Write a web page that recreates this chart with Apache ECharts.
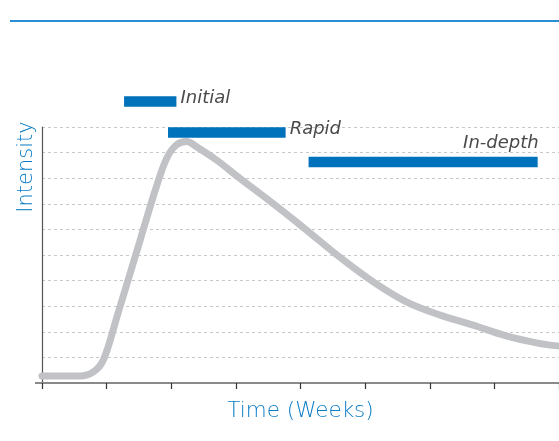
<!DOCTYPE html>
<html>
<head>
<meta charset="utf-8">
<script src="https://cdn.jsdelivr.net/npm/echarts@6/dist/echarts.min.js"></script>
<style>html,body{margin:0;padding:0;background:#fff}#c{width:559px;height:441px}</style>
</head>
<body>
<div id="c"></div>
<script>
// Curve: learning intensity over time
var timeWeeks = [0, 0.59, 0.80, 0.95, 1.16, 1.52, 1.77, 1.93, 2.08, 2.24, 2.39, 2.70, 3.06, 3.57, 4.09, 4.60, 5.12, 5.63, 6.15, 6.66, 7.18, 7.69, 7.98];
var intensity = [0.27, 0.27, 0.44, 0.90, 2.59, 5.59, 7.67, 8.78, 9.30, 9.43, 9.23, 8.71, 8.0, 7.02, 5.98, 4.93, 3.96, 3.18, 2.66, 2.27, 1.84, 1.55, 1.45];

// Phases
var phaseNames = ['Initial', 'Rapid', 'In-depth'];
var phaseStart = [1.27, 1.95, 4.125];
var phaseEnd = [2.08, 3.77, 7.67];
var phaseLevel = [11.0, 9.79, 8.63];

var curveData = timeWeeks.map(function (t, i) { return [t, intensity[i]]; });
var phaseData = phaseNames.map(function (n, i) { return [phaseStart[i], phaseEnd[i], phaseLevel[i], n]; });

var FONT = '"DejaVu Sans"';
var chart = echarts.init(document.getElementById('c'));
chart.setOption({
  animation: false,
  grid: { left: 42, right: -1, top: 127, bottom: 58 },
  xAxis: {
    type: 'value', min: 0, max: 8, interval: 1,
    name: 'Time (Weeks)', nameLocation: 'middle', nameGap: 17,
    nameTextStyle: { color: '#0a7cc6', fontSize: 21.5, fontFamily: 'DejaVu Sans', fontWeight: 200 },
    axisLine: { show: true, lineStyle: { color: '#8a8a8a', width: 2 } },
    axisTick: { show: true, length: 6, lineStyle: { color: '#333', width: 1.2 } },
    axisLabel: { show: false },
    splitLine: { show: false }
  },
  yAxis: {
    type: 'value', min: 0, max: 10, interval: 1,
    axisLine: { show: true, lineStyle: { color: '#555', width: 1.2 } },
    axisTick: { show: false },
    axisLabel: { show: false },
    splitLine: { show: true, lineStyle: { color: '#c8c8c8', type: [3, 3], width: 1 } }
  },
  graphic: [
    { type: 'line', shape: { x1: 10, y1: 21, x2: 559, y2: 21 }, style: { stroke: '#2a8ed4', lineWidth: 2 } },
    { type: 'line', shape: { x1: 35, y1: 383, x2: 43, y2: 383 }, style: { stroke: '#8a8a8a', lineWidth: 2 } },
    { type: 'text', x: 26.5, y: 167, rotation: Math.PI / 2,
      style: { text: 'Intensity', fill: '#0a7cc6', font: '200 21px ' + FONT, align: 'center', verticalAlign: 'middle' } }
  ],
  series: [
    {
      type: 'line', data: curveData, smooth: 0.35, symbol: 'none',
      lineStyle: { color: '#c1c2c6', width: 7, cap: 'round', join: 'round' },
      z: 2
    },
    {
      type: 'custom', clip: false, data: phaseData, z: 5,
      encode: { x: [0, 1], y: 2 },
      renderItem: function (params, api) {
        var s = api.coord([api.value(0), api.value(2)]);
        var e = api.coord([api.value(1), api.value(2)]);
        var h = 10.5;
        var name = phaseNames[params.dataIndex];
        var isLast = params.dataIndex === 2;
        var f = 'italic 200 18px ' + FONT;
        var txt = isLast
          ? { type: 'text', style: { x: e[0] + 1, y: s[1] - 19, text: name, align: 'right', verticalAlign: 'middle', fill: '#4a4a4a', font: f } }
          : { type: 'text', style: { x: e[0] + 4, y: s[1] - 3.5, text: name, align: 'left', verticalAlign: 'middle', fill: '#4a4a4a', font: f } };
        return {
          type: 'group',
          children: [
            { type: 'rect', shape: { x: s[0], y: s[1] - h / 2, width: e[0] - s[0], height: h }, style: { fill: '#0071bb' } },
            txt
          ]
        };
      }
    }
  ]
});
</script>
</body>
</html>
